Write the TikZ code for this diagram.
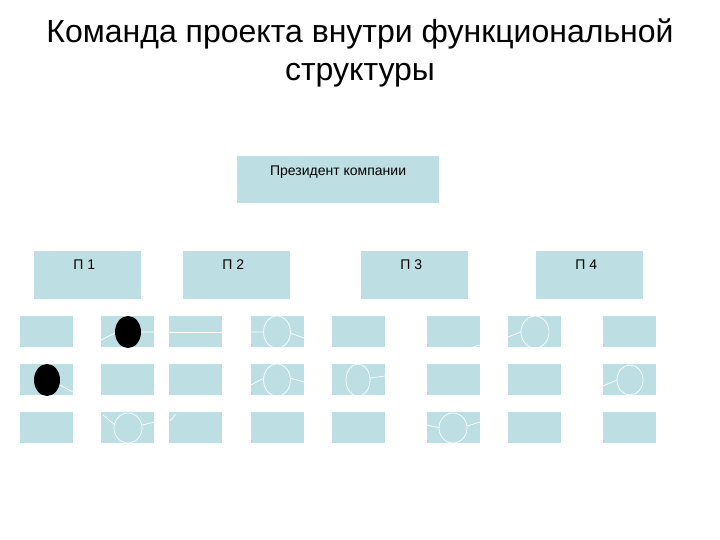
\documentclass[tikz,border=0pt]{standalone}
\usepackage{fontspec}
\setmainfont{Liberation Sans}
\definecolor{cellblue}{RGB}{189,223,227}
\newcommand{\orgBox}[6]{%
  \begin{scope}[shift={(#2, #3)}]%
    \def\boxwidth{#4}
    \def\boxheight{#5}

    \node[cell, minimum width=\boxwidth, minimum height=\boxheight,
      anchor=north west] (#1) at (0, 0) {};

    \node[anchor=base, inner sep=0pt, font=\fontsize{14bp}{16bp}\selectfont]
      (#1-label) at ([xshift=-3bp, yshift=-18bp]#1.north) {#6};
  \end{scope}%
}

\begin{document}
\begin{tikzpicture}[x=1bp, y=-1bp]
  \tikzset{
    cell/.style={fill=cellblue, inner sep=0pt, outer sep=0pt},
    ghost/.style={draw=white, line width=0.7bp},
    blob/.style={fill=black}
  }
  \useasboundingbox (0, 0) rectangle (720, 540);

  % Title
  \node[anchor=base, inner sep=0pt, font=\fontsize{32bp}{36bp}\selectfont]
    (title1) at (360, 43) {Команда проекта внутри функциональной};
  \node[anchor=base, inner sep=0pt, font=\fontsize{32bp}{36bp}\selectfont]
    (title2) at (360, 81) {структуры};

  % President and departments
  \node[cell, minimum width=203, minimum height=47, anchor=north west]
    (pres) at (237, 156) {};
  \node[anchor=base, inner sep=0pt, font=\fontsize{14bp}{16bp}\selectfont]
    (pres-label) at ([yshift=-20bp]pres.north) {Президент компании};

  \orgBox{p1}{34}{251}{107}{48}{П 1}
  \orgBox{p2}{183}{251}{107}{48}{П 2}
  \orgBox{p3}{361}{251}{107}{48}{П 3}
  \orgBox{p4}{536}{251}{107}{48}{П 4}

  % Grid of staff cells
  \foreach \x [count=\c] in {20, 101, 169, 251, 332, 427, 508, 603}
    \foreach \y [count=\r] in {316, 364, 412}
      \node[cell, minimum width=53, minimum height=31, anchor=north west]
        (c\c-\r) at (\x, \y) {};

  % Faint traces inside the cells
  \draw[ghost] (277, 332) ellipse (13.5 and 16);
  \draw[ghost] (251, 332) -- (264, 332) (290, 333) -- (304, 338);
  \draw[ghost] (277, 380) ellipse (13.5 and 16);
  \draw[ghost] (251, 385) -- (264, 378) (290, 378) -- (304, 382);
  \draw[ghost] (358, 380) ellipse (12 and 16);
  \draw[ghost] (370, 378) -- (385, 376);
  \draw[ghost] (169, 332) -- (222, 332);
  \draw[ghost] (101, 340) -- (115, 333) (141, 332) -- (155, 332);
  \draw[ghost] (60, 385) -- (73, 392);
  \draw[ghost] (128, 428) ellipse (14 and 15);
  \draw[ghost] (103, 415) -- (115, 425) (142, 425) -- (155, 422);
  \draw[ghost] (170, 421) -- (176, 414);
  \draw[ghost] (473, 347) -- (480, 345);
  \draw[ghost] (535, 332) ellipse (14 and 16);
  \draw[ghost] (508, 337) -- (521, 332);
  \draw[ghost] (630, 380) ellipse (13 and 15);
  \draw[ghost] (603, 386) -- (617, 380);
  \draw[ghost] (453, 428) ellipse (14 and 15);
  \draw[ghost] (427, 425) -- (440, 428) (467, 426) -- (480, 422);

  % Project team members
  \fill[blob] (128, 332) ellipse (13 and 16);
  \fill[blob] (47, 380) ellipse (13 and 16);
\end{tikzpicture}
\end{document}
